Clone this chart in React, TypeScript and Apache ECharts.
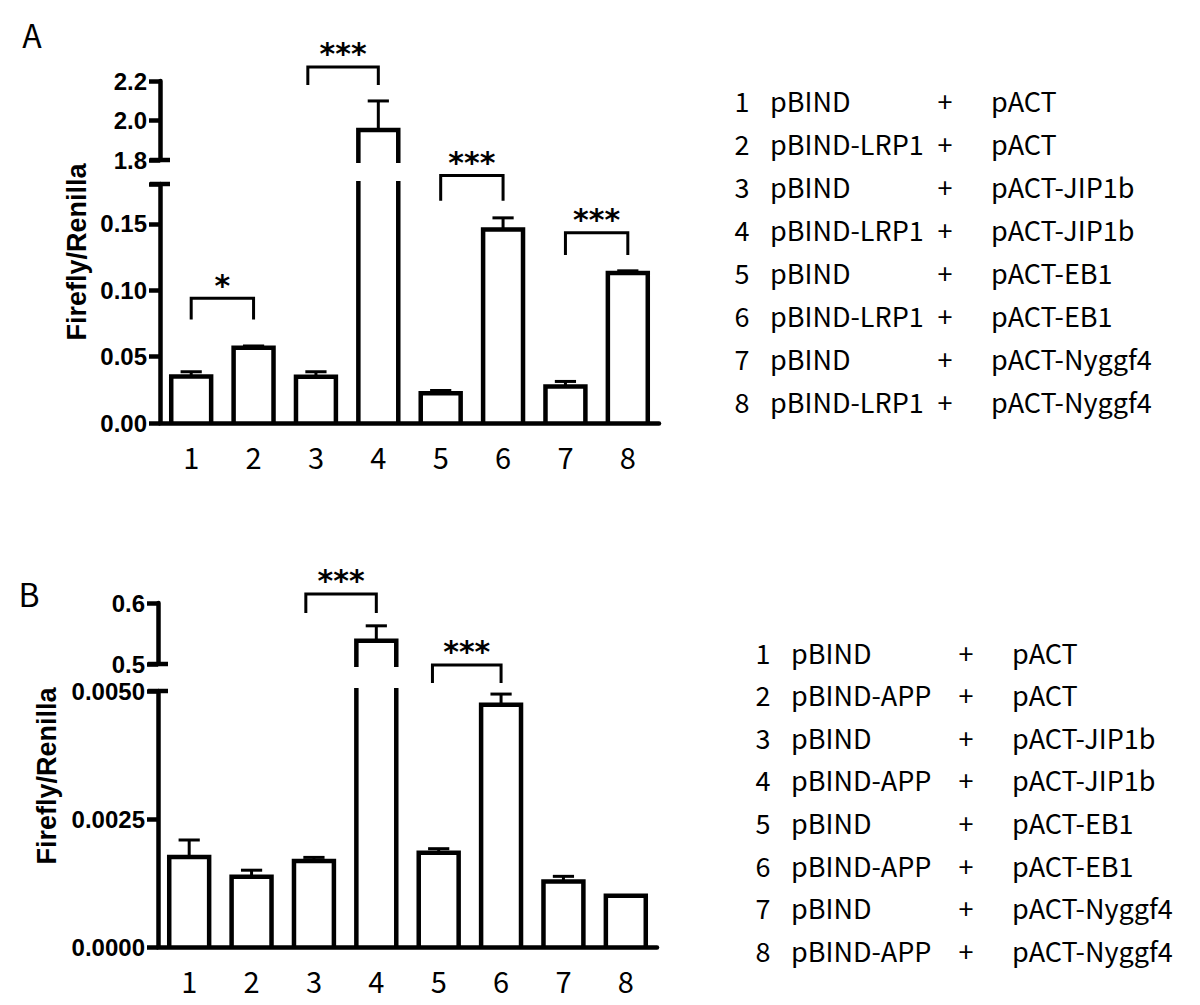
import React, { useEffect, useRef } from 'react';
import * as echarts from 'echarts';

// ---------- data ----------
const categories = ['1', '2', '3', '4', '5', '6', '7', '8'];

const meanA = [0.035, 0.0566, 0.0348, 1.952, 0.0225, 0.1457, 0.0275, 0.1129];
const errA = [0.0036, 0.0014, 0.0038, 0.147, 0.002, 0.0088, 0.0038, 0.0017];

const meanB = [0.00176, 0.00137, 0.00168, 0.538, 0.00184, 0.00473, 0.00128, 0.001];
const errB = [0.00033, 0.00013, 0.00007, 0.0246, 0.00008, 0.00021, 0.0001, 0];

// axis ranges [min, max, interval]
const axisAUpper = [1.8, 2.2, 0.2];
const axisALower = [0, 0.18, 0.05];
const axisBUpper = [0.5, 0.6, 0.1];
const axisBLower = [0, 0.005, 0.0025];

// brackets: [fromIndex, toIndex, fromOffset(bands), topValue, legValue, label]
const bracketsAUpper: any[] = [[2, 3, -0.13, 2.271, 2.18, '***']];
const bracketsALower: any[] = [
  [0, 1, 0, 0.0939, 0.078, '*'],
  [4, 5, 0, 0.1864, 0.1674, '***'],
  [6, 7, 0, 0.1432, 0.1265, '***'],
];
const bracketsBUpper: any[] = [[2, 3, -0.13, 0.6148, 0.5836, '***']];
const bracketsBLower: any[] = [[4, 5, -0.1, 0.005508, 0.005156, '***']];

const legendNums = ['1', '2', '3', '4', '5', '6', '7', '8'];
const legendLeftA = ['pBIND', 'pBIND-LRP1', 'pBIND', 'pBIND-LRP1', 'pBIND', 'pBIND-LRP1', 'pBIND', 'pBIND-LRP1'];
const legendLeftB = ['pBIND', 'pBIND-APP', 'pBIND', 'pBIND-APP', 'pBIND', 'pBIND-APP', 'pBIND', 'pBIND-APP'];
const legendRight = ['pACT', 'pACT', 'pACT-JIP1b', 'pACT-JIP1b', 'pACT-EB1', 'pACT-EB1', 'pACT-Nyggf4', 'pACT-Nyggf4'];

const yTitle = 'Firefly/Renilla';

// ---------- styles ----------
const LW = 4.5;
const EW = 3;
const BLACK = '#000';
const LABEL_FONT = 'Liberation Sans';
const CJK_FONT = 'Noto Sans CJK JP';

function makeBarRender(means: number[], errs: number[], part: 'upper' | 'lower') {
  return (params: any, api: any) => {
    const idx = params.dataIndex;
    const v = means[idx];
    const e = errs[idx];
    const cs = params.coordSys;
    const top = cs.y;
    const bottom = cs.y + cs.height;
    const band = api.size([1, 0])[0];
    const cx = api.coord([idx, 0])[0];
    const half = band * 0.32;
    const capHalf = band * 0.17;
    const yv = api.coord([idx, v])[1];
    const ye = api.coord([idx, v + e])[1];
    const st = { stroke: BLACK, lineWidth: LW, fill: null, lineJoin: 'miter', lineCap: 'butt' };
    const children: any[] = [];
    if (part === 'lower') {
      if (yv < top) {
        children.push({ type: 'line', shape: { x1: cx - half, y1: bottom, x2: cx - half, y2: top - 3 }, style: st });
        children.push({ type: 'line', shape: { x1: cx + half, y1: bottom, x2: cx + half, y2: top - 3 }, style: st });
        return { type: 'group', children };
      }
      children.push({
        type: 'polyline',
        shape: { points: [[cx - half, bottom], [cx - half, yv], [cx + half, yv], [cx + half, bottom]] },
        style: st,
      });
    } else {
      if (yv > bottom) return { type: 'group', children };
      const base = bottom + 3;
      children.push({
        type: 'polyline',
        shape: { points: [[cx - half, base], [cx - half, yv], [cx + half, yv], [cx + half, base]] },
        style: st,
      });
    }
    if (e > 0) {
      const es = { stroke: BLACK, lineWidth: EW };
      children.push({ type: 'line', shape: { x1: cx, y1: yv, x2: cx, y2: ye }, style: es });
      children.push({ type: 'line', shape: { x1: cx - capHalf, y1: ye, x2: cx + capHalf, y2: ye }, style: es });
    }
    return { type: 'group', children };
  };
}

function makeBracketRender(list: any[]) {
  return (params: any, api: any) => {
    const [a, b, off, topV, legV, label] = list[params.dataIndex];
    const band = api.size([1, 0])[0];
    const x1 = api.coord([a, 0])[0] + off * band;
    const x2 = api.coord([b, 0])[0];
    const yt = api.coord([a, topV])[1];
    const yl = api.coord([a, legV])[1];
    return {
      type: 'group',
      children: [
        {
          type: 'polyline',
          shape: { points: [[x1, yl], [x1, yt], [x2, yt], [x2, yl]] },
          style: { stroke: BLACK, lineWidth: EW, fill: null, lineJoin: 'miter' },
        },
        {
          type: 'text',
          x: (x1 + x2) / 2,
          y: yt - 13,
          style: {
            text: label,
            fill: BLACK,
            font: 'bold 30px "DejaVu Sans"',
            align: 'center',
            verticalAlign: 'middle',
          },
        },
      ],
    };
  };
}

function makeCapRender(value: number) {
  return (params: any, api: any) => {
    const cs = params.coordSys;
    const y = api.coord([0, value])[1];
    return {
      type: 'line',
      shape: { x1: cs.x - 10, y1: y, x2: cs.x + 10, y2: y },
      style: { stroke: BLACK, lineWidth: LW },
    };
  };
}

function yAxisDef(gridIndex: number, range: number[], digits: number) {
  return {
    type: 'value',
    gridIndex,
    min: range[0],
    max: range[1],
    interval: range[2],
    axisLine: { show: true, lineStyle: { color: BLACK, width: LW } },
    axisTick: { show: true, inside: false, length: 11, lineStyle: { color: BLACK, width: LW } },
    splitLine: { show: false },
    axisLabel: {
      margin: 13,
      color: BLACK,
      fontFamily: LABEL_FONT,
      fontWeight: 'bold',
      fontSize: 24,
      formatter: (v: number) => {
        const k = Math.round(v / range[2]);
        if (Math.abs(k * range[2] - v) > range[2] * 1e-6) return '';
        return v.toFixed(digits);
      },
    },
  };
}

function xAxisDef(gridIndex: number, show: boolean) {
  return {
    type: 'category',
    gridIndex,
    data: categories,
    show,
    axisLine: { show, onZero: false, lineStyle: { color: BLACK, width: LW } },
    axisTick: { show: false },
    axisLabel: { show, margin: 18, color: BLACK, fontFamily: CJK_FONT, fontSize: 29 },
    splitLine: { show: false },
  };
}

function legendTexts(left: string[], x0: number, y0: number, step: number) {
  const out: any[] = [];
  const font = `27px "${CJK_FONT}"`;
  for (let i = 0; i < legendNums.length; i++) {
    const y = y0 + i * step;
    out.push({ type: 'text', x: x0, y, style: { text: legendNums[i], font, fill: BLACK, align: 'center', verticalAlign: 'middle' } });
    out.push({ type: 'text', x: x0 + 28, y, style: { text: left[i], font, fill: BLACK, align: 'left', verticalAlign: 'middle' } });
    out.push({ type: 'text', x: x0 + 203, y, style: { text: '+', font, fill: BLACK, align: 'center', verticalAlign: 'middle' } });
    out.push({ type: 'text', x: x0 + 249, y, style: { text: legendRight[i], font, fill: BLACK, align: 'left', verticalAlign: 'middle' } });
  }
  return out;
}

export default function App() {
  const ref = useRef<HTMLDivElement>(null);
  useEffect(() => {
    document.body.style.margin = '0';
    const chart = echarts.init(ref.current!, null, { renderer: 'svg' });
    const grids = [
      { left: 160, top: 81, width: 499, height: 79 },
      { left: 160, top: 184, width: 499, height: 239 },
      { left: 158, top: 603, width: 499, height: 61 },
      { left: 158, top: 691, width: 499, height: 256 },
    ].map((g) => ({ ...g, outerBoundsMode: 'none', containLabel: false }));

    const bar = (xi: number, means: number[], errs: number[], part: 'upper' | 'lower') => ({
      type: 'custom',
      xAxisIndex: xi,
      yAxisIndex: xi,
      clip: false,
      renderItem: makeBarRender(means, errs, part),
      data: categories.map((c, i) => [i, means[i]]),
      z: 3,
    });
    const brackets = (xi: number, list: any[]) => ({
      type: 'custom',
      xAxisIndex: xi,
      yAxisIndex: xi,
      clip: false,
      renderItem: makeBracketRender(list),
      data: list.map((b) => [b[0], b[3]]),
      z: 4,
    });
    const cap = (xi: number, value: number) => ({
      type: 'custom',
      xAxisIndex: xi,
      yAxisIndex: xi,
      clip: false,
      renderItem: makeCapRender(value),
      data: [[0, value]],
      z: 5,
    });

    const option: any = {
      animation: false,
      backgroundColor: '#fff',
      grid: grids,
      xAxis: [xAxisDef(0, false), xAxisDef(1, true), xAxisDef(2, false), xAxisDef(3, true)],
      yAxis: [
        yAxisDef(0, axisAUpper, 1),
        yAxisDef(1, axisALower, 2),
        yAxisDef(2, axisBUpper, 1),
        yAxisDef(3, axisBLower, 4),
      ],
      series: [
        bar(0, meanA, errA, 'upper'),
        bar(1, meanA, errA, 'lower'),
        bar(2, meanB, errB, 'upper'),
        bar(3, meanB, errB, 'lower'),
        brackets(0, bracketsAUpper),
        brackets(1, bracketsALower),
        brackets(2, bracketsBUpper),
        brackets(3, bracketsBLower),
        cap(0, axisAUpper[0]),
        cap(1, axisALower[1]),
        cap(2, axisBUpper[0]),
        cap(3, axisBLower[1]),
      ],
      graphic: [
        { type: 'text', x: 32, y: 34, style: { text: 'A', font: `32px "${CJK_FONT}"`, fill: BLACK, align: 'center', verticalAlign: 'middle' } },
        { type: 'text', x: 29, y: 593, style: { text: 'B', font: `32px "${CJK_FONT}"`, fill: BLACK, align: 'center', verticalAlign: 'middle' } },
        { type: 'text', x: 77, y: 252, rotation: Math.PI / 2, style: { text: yTitle, font: `bold 27px "${LABEL_FONT}"`, fill: BLACK, align: 'center', verticalAlign: 'middle' } },
        { type: 'text', x: 47, y: 776, rotation: Math.PI / 2, style: { text: yTitle, font: `bold 27px "${LABEL_FONT}"`, fill: BLACK, align: 'center', verticalAlign: 'middle' } },
        ...legendTexts(legendLeftA, 742, 100, 43),
        ...legendTexts(legendLeftB, 763, 652, 42.6),
      ],
    };
    chart.setOption(option);
    return () => chart.dispose();
  }, []);
  return <div ref={ref} style={{ width: 1200, height: 1005 }} />;
}
